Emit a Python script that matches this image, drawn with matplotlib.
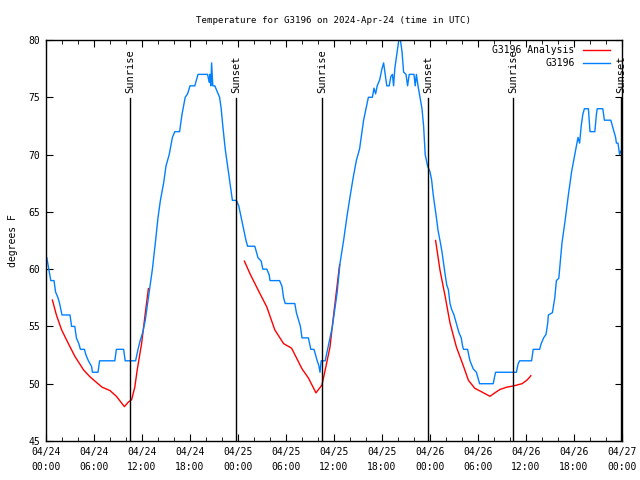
import numpy as np
import matplotlib
matplotlib.use("Agg")
import matplotlib.pyplot as plt

plt.rcParams['font.family'] = ['DejaVu Sans Mono']

# hours since 2024-04-24 00:00 UTC
obs_hours = [0.1, 0.35, 0.6, 1.0, 1.2, 1.5, 1.7, 2.0, 3.0, 3.2, 3.6, 3.8, 4.1, 4.3, 4.8, 5.0, 5.3, 5.7, 5.8, 6.5,
             6.7, 8.6, 8.8, 9.7, 9.9, 11.2, 11.5, 11.75, 12.1, 12.4, 12.7, 13.0, 13.3, 13.7, 14.0, 14.3, 14.7, 15.0,
             15.4, 15.8, 16.1, 16.7, 17.0, 17.4, 17.7, 18.0, 18.6, 19.0, 20.2, 20.4, 20.5, 20.6, 20.7, 20.85, 21.1,
             21.4, 21.7, 21.9, 22.1, 22.4, 22.7, 23.0, 23.3, 23.8, 24.1, 24.4, 24.7, 25.0, 25.2, 26.1, 26.3, 26.5,
             26.9, 27.1, 27.6, 27.9, 28.0, 29.2, 29.5, 29.7, 29.9, 31.1, 31.3, 31.6, 31.8, 32.0, 32.8, 33.1, 33.5,
             33.7, 33.9, 34.1, 34.25, 34.4, 34.9, 35.2, 35.5, 35.8, 36.1, 36.4, 36.75, 37.2, 37.6, 38.0, 38.4,
             38.8, 39.2, 39.4, 39.7, 40.0, 40.3, 40.8, 41.0, 41.2, 41.4, 41.7, 42.0, 42.2, 42.4, 42.6, 42.9, 43.1,
             43.3, 43.45, 43.6, 43.9, 44.1, 44.3, 44.5, 44.7, 45.0, 45.2, 45.4, 46.0, 46.15, 46.3, 46.5, 46.8,
             47.0, 47.2, 47.4, 47.7, 48.0, 48.2, 48.4, 48.6, 48.8, 49.0, 49.3, 49.5, 49.7, 49.9, 50.1, 50.3, 50.5,
             50.7, 51.0, 51.2, 51.4, 51.6, 51.9, 52.1, 52.2, 52.7, 52.9, 53.0, 53.4, 53.8, 54.0, 54.2, 55.9, 56.1,
             56.2, 58.8, 59.0, 59.2, 60.7, 60.9, 61.7, 61.9, 62.2, 62.5, 62.7, 62.8, 63.3, 63.6, 63.8, 64.1, 64.3,
             64.5, 64.9, 65.3, 65.7, 66.1, 66.5, 66.7, 66.9, 67.1, 67.3, 67.8, 68.0, 68.6, 68.8, 68.9, 69.6, 69.8,
             70.6, 70.8, 71.0, 71.2, 71.3, 71.5, 71.6, 71.7, 71.85]
obs_temps = [61, 60, 59, 59, 58, 57.5, 57, 56, 56, 55, 55, 54, 53.5, 53, 53, 52.5, 52, 51.5, 51, 51,
             52, 52, 53, 53, 52, 52, 53, 53.7, 54.5, 55.5, 57, 58.5, 60, 62.5, 64.5, 66, 67.5, 69,
             70, 71.5, 72, 72, 73.5, 75, 75.3, 76, 76, 77, 77, 76.3, 77, 76, 78, 76, 76,
             75.5, 75, 74, 72.5, 70.5, 69, 67.5, 66, 66, 65.5, 64.5, 63.5, 62.5, 62, 62, 61.5, 61,
             60.7, 60, 60, 59.5, 59, 59, 58.5, 57.5, 57, 57, 56.2, 55.5, 55, 54, 54, 53, 53,
             52.5, 52, 51.6, 51, 52, 52, 53, 54, 55, 56.5, 58, 60.5, 62.5, 64.5, 66.3, 68,
             69.5, 70.5, 71.5, 73, 74, 75, 75, 75.8, 75.3, 76, 76.5, 77.5, 78, 77, 76, 76, 76.8,
             77, 76, 77.5, 79, 80, 80, 79, 77.2, 77, 76, 77, 77, 76, 77, 76, 74.8,
             74, 72.5, 70, 69, 68.5, 67.8, 66.5, 65.5, 64.5, 63.4, 62.3, 61.5, 60.5, 59.5, 58.6, 58.2, 57,
             56.5, 56, 55.5, 55, 54.5, 54, 53.2, 53, 53, 52.3, 52, 51.3, 51, 50.5, 50, 50, 50.7,
             51, 51, 51.7, 52, 52, 53, 53, 53.5, 54, 54.3, 55.2, 56, 56.2, 57.5, 59, 59.2, 60.7,
             62.3, 64.3, 66.5, 68.5, 70, 71.5, 71, 72.5, 73.5, 74, 74, 72, 72, 73.5, 74, 74, 73,
             73, 72.5, 72, 71.5, 71, 71, 70.5, 70, 70.3]

# analysis series, NaN separates the three runs
ana_hours = [0.8, 1.3, 1.95, 2.8, 3.6, 4.7, 5.5, 7.0, 8.0, 8.8, 9.8, 10.3, 10.7, 11.1, 11.4, 11.95, 12.4, 12.8,
             np.nan,
             24.8, 25.5, 26.5, 27.6, 28.6, 29.7, 30.7, 32.0, 32.8, 33.75, 34.5, 34.9, 35.5, 35.9, 36.7,
             np.nan,
             48.7, 49.25, 49.9, 50.5, 51.3, 52.2, 52.8, 53.6, 54.7, 55.5, 56.1, 56.75, 57.6, 58.4, 59.5, 60.1,
             60.5, 60.6]
ana_temps = [57.3, 56.0, 54.7, 53.5, 52.4, 51.2, 50.6, 49.7, 49.4, 48.9, 48.0, 48.4, 48.6, 49.7, 51.2, 53.5, 56.1, 58.3,
             np.nan,
             60.7, 59.6, 58.2, 56.7, 54.7, 53.5, 53.1, 51.3, 50.5, 49.2, 49.9, 51.2, 53.2, 55.7, 60.4,
             np.nan,
             62.5, 59.9, 57.6, 55.3, 53.2, 51.5, 50.3, 49.6, 49.2, 48.9, 49.2, 49.5, 49.7, 49.8, 50.0, 50.3,
             50.6, 50.7]

sun_names = ["Sunrise", "Sunset", "Sunrise", "Sunset", "Sunrise", "Sunset"]
sun_hours = [10.5, 23.75, 34.5, 47.75, 58.4, 71.9]

tick_hours = list(range(0, 73, 6))
tick_labels = ["04/24\n00:00", "04/24\n06:00", "04/24\n12:00", "04/24\n18:00",
               "04/25\n00:00", "04/25\n06:00", "04/25\n12:00", "04/25\n18:00",
               "04/26\n00:00", "04/26\n06:00", "04/26\n12:00", "04/26\n18:00",
               "04/27\n00:00"]

fs = 7

fig = plt.figure(figsize=(6.4, 4.8), dpi=100)
ax = fig.add_axes([46/640, 1 - 441/480, 576/640, 401/480])

ax.plot(ana_hours, ana_temps, color='#ff0000', lw=1, label='G3196 Analysis')
ax.plot(obs_hours, obs_temps, color='#0080ff', lw=1, label='G3196')

for name, h in zip(sun_names, sun_hours):
    ax.plot([h, h], [45, 74.9], color='black', lw=1)
    ax.text(h, 75.4, name, rotation=90, ha='center', va='bottom', fontsize=7.5)

ax.set_xlim(0, 72)
ax.set_ylim(45, 80)
ax.set_xticks(tick_hours)
ax.set_xticklabels(tick_labels, linespacing=1.7)
ax.set_xticks(range(0, 73, 2), minor=True)
ax.set_yticks(range(45, 81, 5))
ax.tick_params(direction='in', top=True, right=True, labelsize=fs, length=5, pad=4)
ax.tick_params(which='minor', direction='in', top=True, right=True, length=3)
for s in ax.spines.values():
    s.set_linewidth(1)

ax.set_ylabel('degrees F', fontsize=fs, labelpad=8)
ax.set_title('Temperature for G3196 on 2024-Apr-24 (time in UTC)', fontsize=6.6, pad=12)

leg = ax.legend(loc='upper right', bbox_to_anchor=(0.988, 1.0), frameon=False, fontsize=fs,
                markerfirst=False, handlelength=2.8, borderaxespad=0.15, labelspacing=0.3,
                handletextpad=0.8)
for t in leg.get_texts():
    t.set_ha('right')

fig.savefig('out.png', dpi=100)
